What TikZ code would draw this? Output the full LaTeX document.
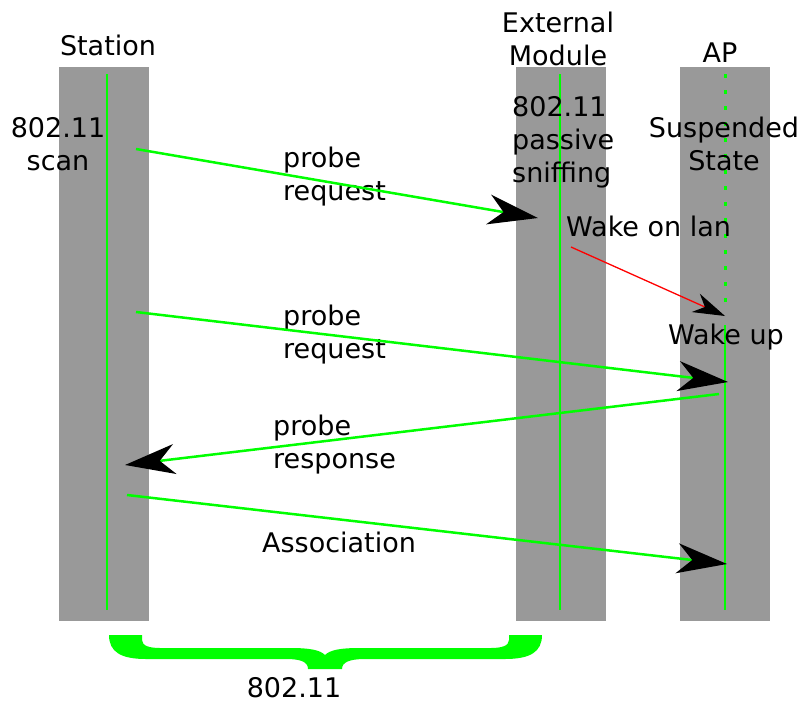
\documentclass[tikz,border=0pt]{standalone}
\usepackage{fontspec}
\setmainfont{DejaVu Sans}
\usetikzlibrary{arrows.meta}
\definecolor{bargray}{HTML}{999999}
\definecolor{lifegreen}{HTML}{00FF00}
\begin{document}
\begin{tikzpicture}[x=1pt,y=-1pt,
    bar/.style={fill=bargray,draw=none},
    life/.style={draw=lifegreen,line width=2.5pt},
    msg/.style={draw=lifegreen,line width=2.5pt,-{Stealth[black,length=50pt,width=30pt,inset=15pt]}},
    wake/.style={draw=red,line width=1.3pt,-{Stealth[black,length=32pt,width=20pt,inset=10pt]}},
    lbl/.style={inner sep=0pt,font=\fontsize{27}{33}\selectfont}]
   \useasboundingbox (0,0) rectangle (805,701);
   \fill[bargray] (59,67) rectangle (149,621);
   \fill[bargray] (516,67) rectangle (606,621);
   \fill[bargray] (680,67) rectangle (770,621);
   \coordinate (stTop) at (107,74);   \coordinate (stBot) at (107,610);
   \coordinate (exTop) at (560,74);   \coordinate (exBot) at (560,610);
   \coordinate (apTop) at (725,74);   \coordinate (apMid) at (725,325);
   \coordinate (apSus) at (725,312);  \coordinate (apBot) at (725,610);
   \draw[life] (stTop) -- (stBot);
   \draw[life] (exTop) -- (exBot);
   \draw[life,line width=3pt,dash pattern=on 4pt off 12pt] (apTop) -- (apSus);
   \draw[life] (apMid) -- (apBot);
   \node[lbl,anchor=north] (station) at (108,35) {Station};
   \node[lbl,anchor=north,align=center] (extmod) at (558,12) {External\\Module};
   \node[lbl,anchor=north] (ap) at (720,43) {AP};
   \node[lbl,anchor=north,align=center] (scan) at (58,117) {802.11\\scan};
   \node[lbl,anchor=north west,align=left] (sniff) at (512,96) {802.11\\passive\\sniffing};
   \node[lbl,anchor=north,align=center] (susp) at (724,117) {Suspended\\State};
   \node[lbl,anchor=north west] (wol) at (566,216) {Wake on lan};
   \node[lbl,anchor=north] (wakeup) at (726,324) {Wake up};
   \node[lbl,anchor=north west,align=left] (req1) at (283,147) {probe\\request};
   \node[lbl,anchor=north west,align=left] (req2) at (283,305) {probe\\request};
   \node[lbl,anchor=north west,align=left] (resp) at (273,415) {probe\\response};
   \node[lbl,anchor=north west] (assoc) at (262,532) {Association};
   \node[lbl,anchor=north] (std) at (294,677) {802.11};
   \coordinate (req1s) at (136,149);  \coordinate (req1e) at (538,218);
   \coordinate (wols) at (571,247);   \coordinate (wole) at (725,316);
   \coordinate (req2s) at (136,312);  \coordinate (req2e) at (728,382);
   \coordinate (resps) at (719,394);  \coordinate (respe) at (125,465);
   \coordinate (assocs) at (127,495); \coordinate (assoce) at (727,564);
   \draw[msg] (req1s) -- (req1e);
   \draw[wake] (wols) -- (wole);
   \draw[msg] (req2s) -- (req2e);
   \draw[msg] (resps) -- (respe);
   \draw[msg] (assocs) -- (assoce);
   \fill[lifegreen] (109,635) -- (142,635) -- (142,640) .. controls (142,646) and (150,648) .. (160,648)
      -- (290,648) .. controls (310,648) and (320,650) .. (325,655) .. controls (330,650) and (340,648) .. (360,648)
      -- (491,648) .. controls (501,648) and (509,646) .. (509,640) -- (509,635) -- (542,635)
      .. controls (542,652) and (530,659) .. (505,659) -- (365,659) .. controls (350,659) and (342,662) .. (342,669)
      -- (308,669) .. controls (308,662) and (301,659) .. (286,659) -- (146,659)
      .. controls (121,659) and (109,652) .. (109,635) -- cycle;
\end{tikzpicture}
\end{document}
